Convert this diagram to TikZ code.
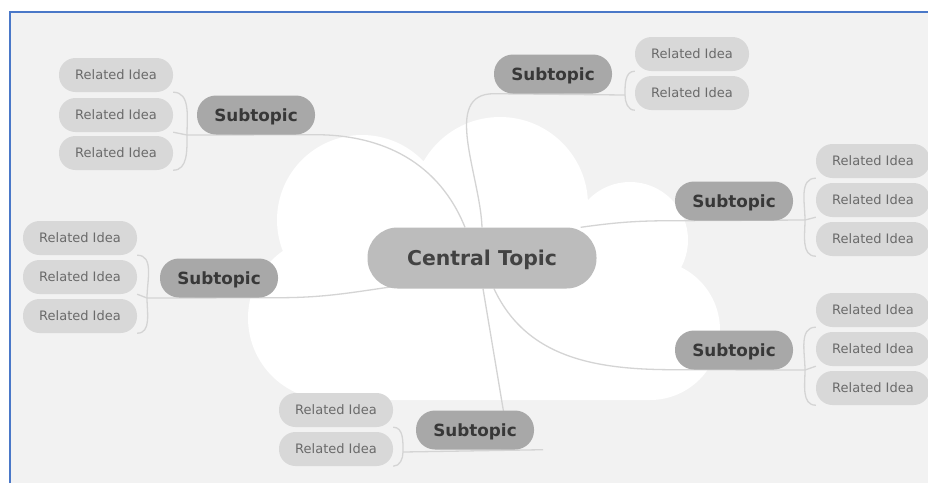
\documentclass[tikz,border=0pt]{standalone}
\usepackage{fontspec}
\setmainfont{DejaVu Sans}
\usetikzlibrary{calc}
\definecolor{paper}{HTML}{F2F2F2}
\definecolor{frameblue}{HTML}{4A78C8}
\definecolor{ideafill}{HTML}{D8D8D8}
\definecolor{ideatext}{HTML}{6A6A6A}
\definecolor{subfill}{HTML}{A8A8A8}
\definecolor{subtext}{HTML}{383838}
\definecolor{centfill}{HTML}{BCBCBC}
\definecolor{centtext}{HTML}{424242}
\definecolor{linkgray}{HTML}{D4D4D4}
\pgfdeclarelayer{paperlayer}
\pgfdeclarelayer{links}
\pgfsetlayers{paperlayer,links,main}

\begin{document}
\begin{tikzpicture}[x=1pt, y=1pt,
  idea/.style={fill=ideafill, text=ideatext, rounded corners=16.5pt, minimum width=114pt, minimum height=34pt, inner sep=0pt, text height=9.5pt, text depth=0pt, font=\fontsize{13}{15}\selectfont},
  subtopic/.style={fill=subfill, text=subtext, rounded corners=19pt, minimum width=118pt, minimum height=39pt, inner sep=0pt, text height=12.4pt, text depth=0pt, font=\fontsize{16.8}{19}\selectfont\bfseries},
  central/.style={fill=centfill, text=centtext, rounded corners=30pt, minimum width=229pt, minimum height=61pt, inner sep=0pt, text height=15pt, text depth=0pt, font=\fontsize{20.4}{24}\selectfont\bfseries},
  link/.style={draw=linkgray, line width=1.3pt}]
  \useasboundingbox (0,0) rectangle (928,-483);

  \begin{pgfonlayer}{paperlayer}
    \fill[white] (0,0) rectangle (928,-483);
    \fill[paper] (10,-12) rectangle (928,-483);
    \draw[frameblue, line width=2pt] (9.5,-483) -- (9.5,-11.5) -- (928,-11.5);
    % cloud
    \fill[white] (362,-220) circle (85) (500,-205) circle (88) (630,-240) circle (58)
      (650,-330) circle (70) (330,-318) circle (82) (330,-200) rectangle (650,-400);
  \end{pgfonlayer}

  \node[central] (ct) at (482,-258) {Central Topic};

  \node[subtopic] (stA) at (256,-115) {Subtopic};
  \node[subtopic] (stB) at (553,-74) {Subtopic};
  \node[subtopic] (stC) at (734,-201) {Subtopic};
  \node[subtopic] (stD) at (734,-350) {Subtopic};
  \node[subtopic] (stE) at (219,-278) {Subtopic};
  \node[subtopic] (stF) at (475,-430) {Subtopic};

  \foreach \n/\y in {1/75,2/115,3/153} \node[idea] (iA\n) at (116,-\y) {Related Idea};
  \foreach \n/\y in {1/54,2/93} \node[idea] (iB\n) at (692,-\y) {Related Idea};
  \foreach \n/\y in {1/161,2/200,3/239} \node[idea] (iC\n) at (873,-\y) {Related Idea};
  \foreach \n/\y in {1/310,2/349,3/388} \node[idea] (iD\n) at (873,-\y) {Related Idea};
  \foreach \n/\y in {1/238,2/277,3/316} \node[idea] (iE\n) at (80,-\y) {Related Idea};
  \foreach \n/\y in {1/410,2/449} \node[idea] (iF\n) at (336,-\y) {Related Idea};

  \coordinate (jA) at (187,-135);
  \coordinate (jB) at (625,-95);
  \coordinate (jC) at (805,-220);
  \coordinate (jD) at (805,-370);
  \coordinate (jE) at (147,-298);
  \coordinate (jF) at (403,-452);

  \begin{pgfonlayer}{links}
    \draw[link] (jA) -- (stA.south east) to[out=0, in=112] ($(ct.north)+(-17,0)$);
    \draw[link] (jB) -- (stB.south west) to[out=180, in=92] (ct.north);
    \draw[link] ($(ct.north east)+(-16,0)$) to[out=8, in=180] (stC.south west) -- (jC);
    \draw[link] ($(ct.south)+(12,0)$) to[out=-65, in=180] (stD.south west) -- (jD);
    \draw[link] (jE) -- (stE.south east) to[out=0, in=188] ($(ct.south west)+(32,3)$);
    \draw[link] ($(ct.south)+(1,0)$) -- ($(stF.north)+(30,-10)$);
    \draw[link] (jF) -- ($(stF.south east)+(9,0)$);

    \draw[link] (jA) to[out=90, in=0] (iA1.south east);
    \draw[link] (jA) -- (iA2.south east);
    \draw[link] (jA) to[out=-90, in=0] (iA3.south east);
    \draw[link] (jB) to[out=90, in=180] (iB1.south west);
    \draw[link] (jB) to[out=-90, in=180] (iB2.south west);
    \draw[link] (jC) to[out=90, in=180] (iC1.south west);
    \draw[link] (jC) -- (iC2.south west);
    \draw[link] (jC) to[out=-90, in=180] (iC3.south west);
    \draw[link] (jD) to[out=90, in=180] (iD1.south west);
    \draw[link] (jD) -- (iD2.south west);
    \draw[link] (jD) to[out=-90, in=180] (iD3.south west);
    \draw[link] (jE) to[out=90, in=0] (iE1.south east);
    \draw[link] (jE) -- (iE2.south east);
    \draw[link] (jE) to[out=-90, in=0] (iE3.south east);
    \draw[link] (jF) to[out=90, in=0] (iF1.south east);
    \draw[link] (jF) to[out=-90, in=0] (iF2.south east);
  \end{pgfonlayer}
\end{tikzpicture}
\end{document}
